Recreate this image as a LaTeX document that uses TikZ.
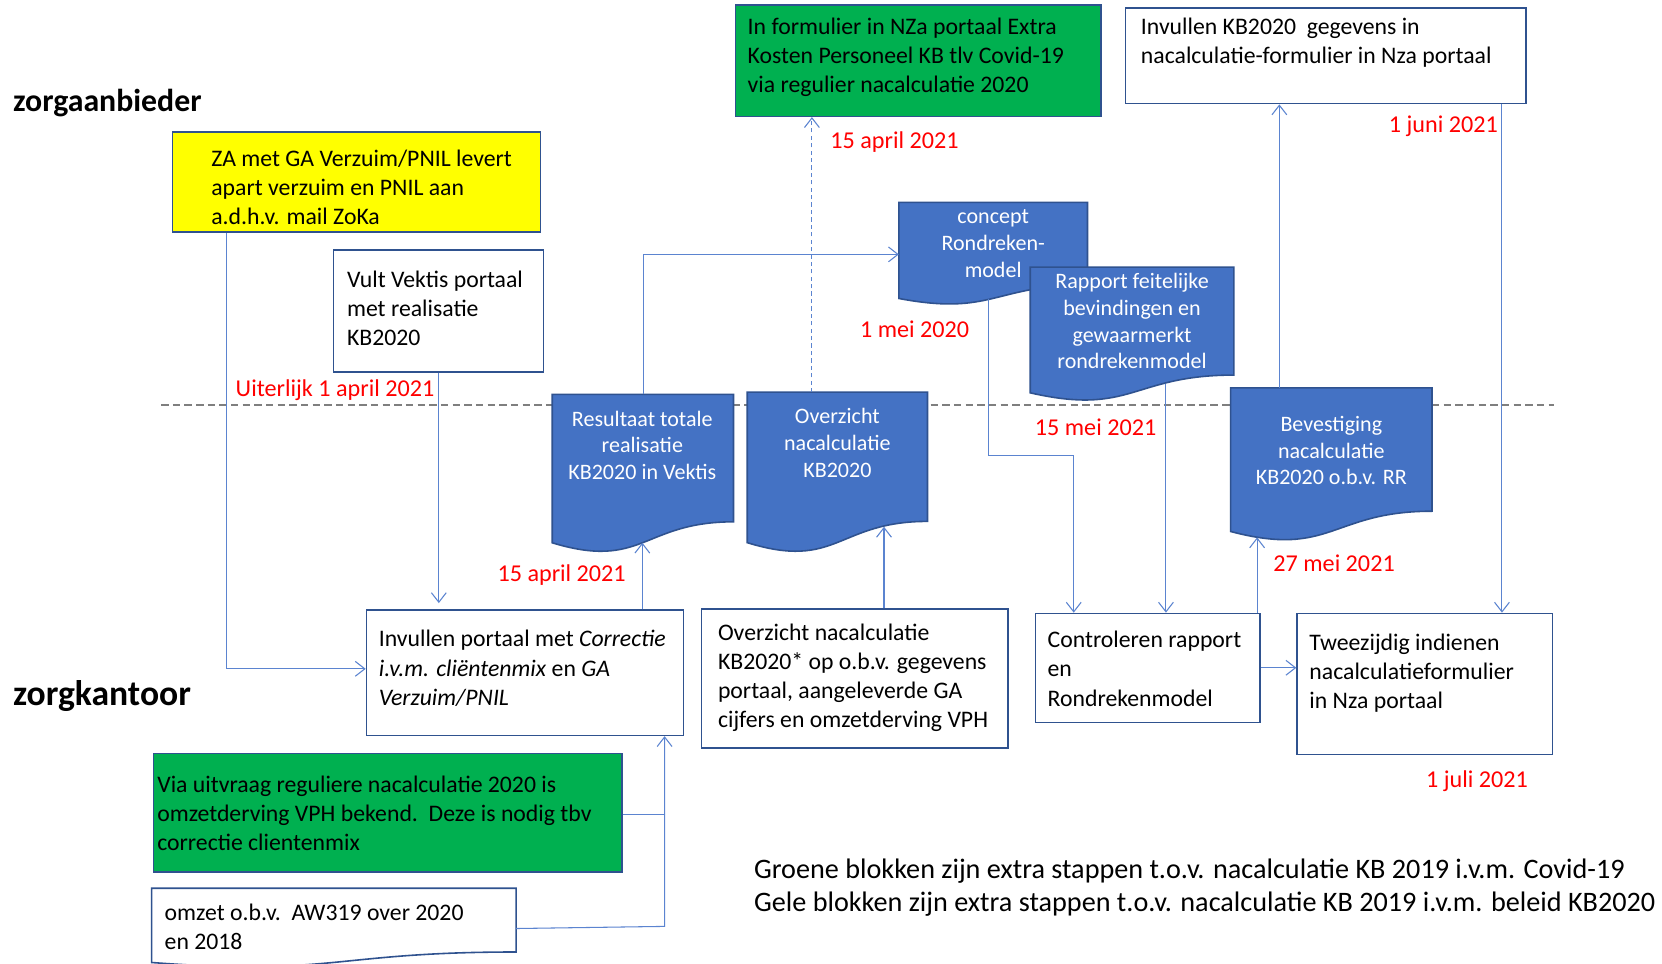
\documentclass[tikz,border=0pt]{standalone}
\usepackage{fontspec}
\setmainfont{Carlito}
\usetikzlibrary{arrows.meta}
\definecolor{bx}{HTML}{2F528F}
\definecolor{df}{HTML}{4472C4}
\definecolor{cn}{HTML}{5B84D0}
\definecolor{rd}{HTML}{FF0000}
\definecolor{gr}{HTML}{00B050}
\definecolor{yl}{HTML}{FFFF00}
\definecolor{dg}{HTML}{7F7F7F}
\newcommand\boxfont{\fontsize{11.2}{13.7}\selectfont}
\newcommand\docfont{\fontsize{10.4}{12.6}\selectfont}
\newcommand\redfont{\fontsize{11.4}{13.7}\selectfont}
\newcommand\legfont{\fontsize{13.3}{15.6}\selectfont}
\newcommand\lanefont{\fontsize{15}{18}\selectfont\bfseries}
\newcommand\lanefontb{\fontsize{16.8}{20}\selectfont\bfseries}
\newcommand\docsh[6][]{%
  \pgfmathsetmacro\dxr{#3+#5}%
  \pgfmathsetmacro\dyr{#4+0.802*#6}%
  \pgfmathsetmacro\dxm{#3+0.5*#5}%
  \pgfmathsetmacro\dyc{#4+1.107*#6}%
  \pgfmathsetmacro\dyl{#4+0.934*#6}%
  \filldraw[docsty,#1] (#3,#4) -- (\dxr,#4) -- (\dxr,\dyr) .. controls (\dxm,\dyr) and (\dxm,\dyc) .. (#3,\dyl) -- cycle;
  \node[inner sep=0pt, minimum width=#5*0.5pt, minimum height=0.802*#6*0.5pt, anchor=north west] (#2) at (#3,#4) {};
}
\newcommand\boxn[6][]{\node[boxst,#1,minimum width=#5*0.5pt,minimum height=#6*0.5pt] (#2) at (#3,#4) {};}
\tikzset{
  boxst/.style={draw=bx, line width=0.75pt, inner sep=0pt, anchor=north west, fill=white},
  txt/.style={inner sep=0pt, anchor=west, align=left, font=\boxfont},
  dtxt/.style={inner sep=0pt, align=center, font=\docfont, text=white},
  lbl/.style={inner sep=0pt, anchor=west, text=rd, font=\redfont},
  conn/.style={draw=cn, line width=0.5pt, -{Straight Barb[length=4.5pt,width=7pt]}},
  docsty/.style={fill=df, draw=bx, line width=0.75pt},
}
\begin{document}
\begin{tikzpicture}[x=0.5pt,y=-0.5pt]
\useasboundingbox (0,0) rectangle (1568,909);
\fill[white] (0,0) rectangle (1568,909);
\clip (0,0) rectangle (1568,909);
% lane separator
\draw[dg, line width=0.75pt, dash pattern=on 3.5pt off 2pt] (152,382) -- (1466,382);
% lane titles
\node[inner sep=0pt, anchor=west, font=\lanefont] (za) at (12,97) {zorgaanbieder};
\node[inner sep=0pt, anchor=west, font=\lanefontb] (zk) at (12,657) {zorgkantoor};
% boxes
\boxn[fill=yl]{yellow}{162}{124}{347}{94}
\node[txt] (tyellow) at (199,177) {ZA met GA Verzuim/PNIL levert\\apart verzuim en PNIL aan\\a.d.h.v. mail ZoKa};
\boxn{vult}{314}{235}{198}{115}
\node[txt] (tvult) at (327,291) {Vult Vektis portaal\\met realisatie\\KB2020};
\boxn[fill=gr]{greentop}{693}{4}{345}{105}
\node[txt] (tgreentop) at (705,54) {In formulier in NZa portaal Extra\\Kosten Personeel KB tlv Covid-19\\via regulier nacalculatie 2020};
\boxn{invkb}{1061}{7}{378}{90}
\node[txt] (tinvkb) at (1076,40) {Invullen KB2020\ \ gegevens in\\nacalculatie-formulier in Nza portaal};
\boxn{invp}{345}{575}{299}{118}
\node[txt] (tinvp) at (357,630.5) {Invullen portaal met \textit{Correctie}\\\textit{i.v.m. cliëntenmix} en \textit{GA}\\\textit{Verzuim/PNIL}};
\boxn{ovbox}{661}{574}{289}{131}
\node[txt] (tovbox) at (677,639.5) {Overzicht nacalculatie\\KB2020* op o.b.v. gegevens\\portaal, aangeleverde GA\\cijfers en omzetderving VPH};
\boxn{contr}{976}{578}{212}{103}
\node[txt] (tcontr) at (988,631) {Controleren rapport\\en\\Rondrekenmodel};
\boxn{twee}{1223}{578}{241}{133}
\node[txt] (ttwee) at (1235,635) {Tweezijdig indienen\\nacalculatieformulier\\in Nza portaal};
\boxn[fill=gr]{greenlow}{144}{710}{442}{112}
\node[txt] (tgreenlow) at (148,767) {Via uitvraag reguliere nacalculatie 2020 is\\omzetderving VPH bekend.\ \ Deze is nodig tbv\\correctie clientenmix};
\docsh[fill=white]{omzet}{143}{838}{344}{75}
\node[txt] (tomzet) at (155,874) {omzet o.b.v.\ \ AW319 over 2020\\en 2018};
% documents
\docsh{concept}{848}{191}{178}{97}
\node[dtxt] (tconcept) at (937,230) {concept\\Rondreken-\\model};
\docsh{rapport}{972}{252}{192}{127}
\node[dtxt] (trapport) at (1068,303) {Rapport feitelijke\\bevindingen en\\gewaarmerkt\\rondrekenmodel};
\docsh{res}{521}{372}{171}{150}
\node[dtxt] (tres) at (606,420) {Resultaat totale\\realisatie\\KB2020 in Vektis};
\docsh{ovd}{705}{370}{170}{152}
\node[dtxt] (tovd) at (790,418) {Overzicht\\nacalculatie\\KB2020};
\docsh{bev}{1161}{366}{190}{145}
\node[dtxt] (tbev) at (1256,425) {Bevestiging\\nacalculatie\\KB2020 o.b.v. RR};
% named connector ends on wavy edges
\coordinate (resB) at (606,512);
\coordinate (ovdB) at (834,497);
\coordinate (conceptB) at (933,282);
\coordinate (rapB) at (1100,362);
\coordinate (bevB) at (1186,507);
\coordinate (omzetR) at (487,876);
\coordinate (merge) at (627,874);
% dates
\node[lbl] (d1) at (222,368) {Uiterlijk 1 april 2021};
\node[lbl] (d2) at (783,134) {15 april 2021};
\node[lbl] (d3) at (811,311) {1 mei 2020};
\node[lbl] (d4) at (976,403) {15 mei 2021};
\node[lbl] (d5) at (1310,119) {1 juni 2021};
\node[lbl] (d6) at (469,543) {15 april 2021};
\node[lbl] (d7) at (1201,531) {27 mei 2021};
\node[lbl] (d8) at (1345,737) {1 juli 2021};
% legend
\node[inner sep=0pt, anchor=west, align=left, font=\legfont] (legend) at (711,837) {Groene blokken zijn extra stappen t.o.v. nacalculatie KB 2019 i.v.m. Covid-19\\Gele blokken zijn extra stappen t.o.v. nacalculatie KB 2019 i.v.m. beleid KB2020};
% connectors
\draw[conn] (yellow.south -| 214,0) |- (invp.west |- 0,631);
\draw[conn, shorten >=3pt] (vult.south -| 414,0) -- (invp.north -| 414,0);
\draw[conn] (invp.north -| 606,0) -- (resB);
\draw[conn] (res.north -| 607,0) |- (concept.west |- 0,240);
\draw[conn, dash pattern=on 2pt off 1.5pt] (ovd.north -| 766,0) -- (greentop.south -| 766,0);
\draw[conn] (ovbox.north -| 834,0) -- (ovdB);
\draw[conn] (conceptB) -- (conceptB |- 0,430) -| (contr.north -| 1013,0);
\draw[conn] (rapB) -- (contr.north -| 1100,0);
\draw[conn] (contr.north -| 1186,0) -- (bevB);
\draw[conn] (contr.east |- 0,630) -- (twee.west |- 0,630);
\draw[conn] (bev.north -| 1207,0) -- (invkb.south -| 1207,0);
\draw[conn] (invkb.south -| 1417,0) -- (twee.north -| 1417,0);
\draw[draw=cn, line width=0.5pt] (greenlow.east |- 0,768) -- (merge |- 0,768);
\draw[conn] (omzetR) -- (merge) -- (invp.south -| merge);
\end{tikzpicture}
\end{document}
